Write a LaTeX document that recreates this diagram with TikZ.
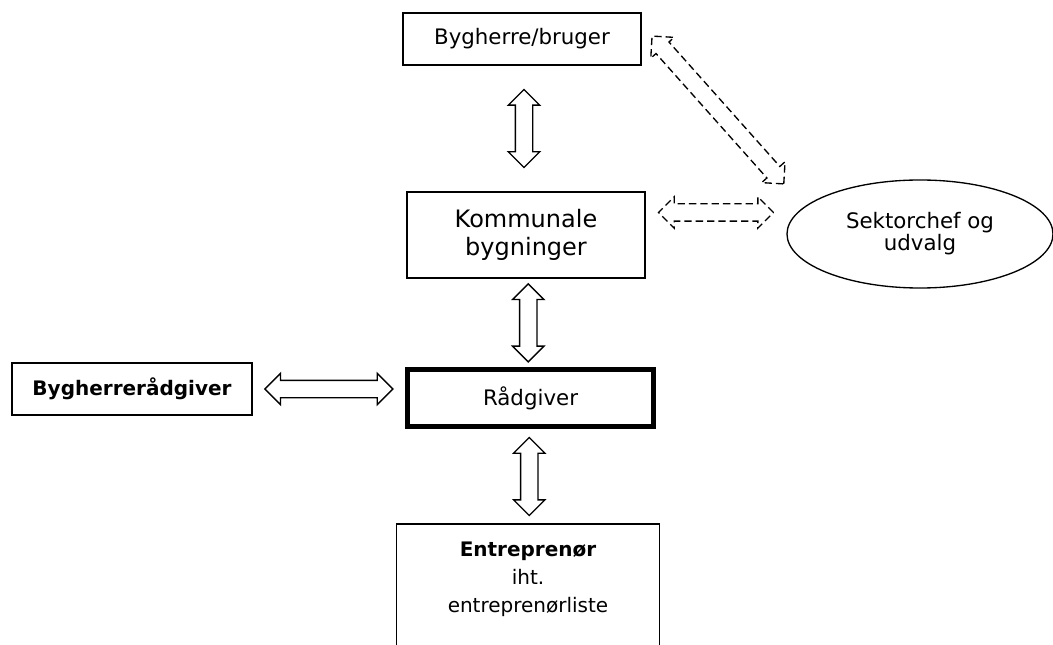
\documentclass[tikz,border=0pt]{standalone}
\usepackage{fontspec}
\setmainfont{DejaVu Sans}
\usetikzlibrary{positioning,calc,shapes.arrows,shapes.geometric}

\begin{document}
\begin{tikzpicture}[x=0.75pt,y=-0.75pt,
  box/.style={draw, line width=1pt, align=center, inner sep=0pt},
  dbl/.style={draw, line width=1pt, double arrow, double arrow head extend=5.25pt,
    inner sep=0pt, inner ysep=6pt, minimum height=#1},
  dsh/.style={dash pattern=on 5.5pt off 3pt}]
\useasboundingbox (0,0) rectangle (1053,645);

\node[box, minimum width=178.5pt, minimum height=39pt, font=\fontsize{16}{19}\selectfont] (bruger) at (522,39) {Bygherre/bruger};
\node[box, minimum width=178.5pt, minimum height=64.5pt, font=\fontsize{18}{21}\selectfont] (komm) at (526,235) {Kommunale\\bygninger};
\node[box, line width=3.75pt, minimum width=184.5pt, minimum height=42.75pt, font=\fontsize{16}{19}\selectfont] (raad) at (530.5,398) {Rådgiver};
\node[box, minimum width=180pt, minimum height=39pt, font=\fontsize{15}{18}\selectfont\bfseries] (bhr) at (132,389) {Bygherrerådgiver};
\node[box, ellipse, minimum width=199.5pt, minimum height=81pt, text depth=4pt, font=\fontsize{16}{17}\selectfont] (sek) at (920,234) {Sektorchef og\\udvalg};
\node[align=center, anchor=north, minimum width=196.5pt, inner sep=0pt, inner ysep=13pt, font=\fontsize{15}{21}\selectfont] (entr) at (528,524) {\textbf{Entreprenør}\\iht.\\entreprenørliste};
\draw[line width=1pt] ([yshift=-100pt]entr.north west) -- (entr.north west) -- (entr.north east) -- ([yshift=-100pt]entr.north east);

\foreach \a/\b/\n in {bruger/komm/pil1, komm/raad/pil2, raad/entr/pil3}
  \node[dbl=58.5pt, rotate=90] (\n) at ($(\a.south)!0.5!(\b.north)$) {};
\node[dbl=96pt] (pil4) at ($(bhr.east)!0.5!(bhr.east -| raad.west)$) {};

\node[dbl=86.25pt, dsh] (pil5) at ($(komm.east)!0.5!(sek.west)+(0,-22)$) {};
\node[dbl=148.5pt, dsh, rotate=-48.3] (pil6) at ($(bruger.north east)!0.5!(sek.160)+(-13,5)$) {};
\end{tikzpicture}
\end{document}
